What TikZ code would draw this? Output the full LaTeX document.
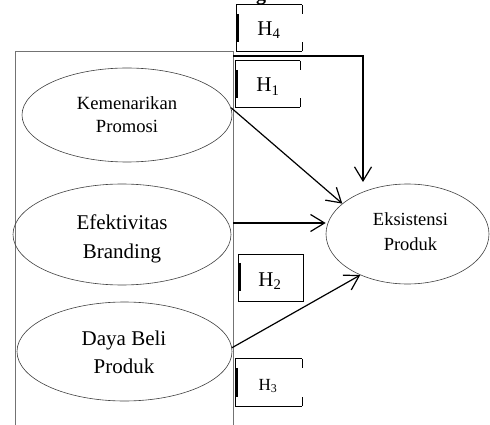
\documentclass[tikz,border=0pt]{standalone}
\usepackage{fontspec}
\setmainfont{Liberation Serif}
\usetikzlibrary{shapes.geometric,arrows.meta}
\newcommand\hypframe[1]{%
  \draw[hedge] (#1.north east) -- (#1.north west) -- (#1.south west) -- (#1.south east);
  \draw[hedge] (#1.north east) -- ++(0,9);
  \draw[hedge] (#1.south east) -- ++(0,-9);
  \draw[hbar] ([xshift=1.3pt]#1.north west) ++(0,9) -- ([xshift=1.3pt,yshift=9pt]#1.south west);
}
\begin{document}
\begin{tikzpicture}[x=1pt,y=-1pt,
  ell/.style={ellipse,draw=black!75,line width=0.6pt,inner sep=0pt},
  txt/.style={align=center,inner sep=0pt},
  frameline/.style={draw=black!55,line width=0.8pt},
  hyp/.style={inner sep=0pt,draw=none},
  hedge/.style={draw=black,line width=0.9pt},
  hbar/.style={draw=black,line width=2.6pt},
  htxt/.style={inner sep=0pt,anchor=base,font=\fontsize{21}{25}\selectfont},
  conn/.style={draw=black,line width=1.2pt,-{Straight Barb[length=14pt,width=17pt,line width=1.2pt]}},
]
\useasboundingbox (0,0) rectangle (490,425);

% cut-off title
\node[inner sep=0pt,anchor=base,font=\bfseries\fontsize{20}{24}\selectfont] (title) at (261,0.8) {g};

% frame
\coordinate (f1) at (15,425);
\coordinate (f2) at (15,51);
\coordinate (f3) at (233,51);
\coordinate (f4) at (233,425);
\draw[frameline] (f1) -- (f2) -- (f3) -- (f4);

% ellipses
\node[ell,minimum width=210pt,minimum height=94pt] (kp) at (127,115) {};
\node[ell,minimum width=218pt,minimum height=101pt] (eb) at (122,234.5) {};
\node[ell,minimum width=215pt,minimum height=99pt] (db) at (124.5,351.5) {};
\node[ell,minimum width=163pt,minimum height=100pt] (es) at (407.5,234) {};

\node[txt,font=\fontsize{18.6}{23}\selectfont] (kpt) at (127,114.2) {Kemenarikan\\Promosi};
\node[txt,font=\fontsize{21}{29}\selectfont] (ebt) at (122,238.7) {Efektivitas\\Branding};
\node[txt,font=\fontsize{21}{28}\selectfont] (dbt) at (124,351.9) {Daya Beli\\Produk};
\node[txt,font=\fontsize{18.5}{25}\selectfont] (est) at (410.5,231.2) {Eksistensi\\Produk};

% hypothesis boxes
\node[hyp,minimum width=65pt,minimum height=46pt] (h4b) at (269.5,28) {};
\node[hyp,minimum width=64pt,minimum height=46pt] (h1b) at (268,84) {};
\node[hyp,minimum width=64pt,minimum height=46pt] (h2b) at (271,278) {};
\node[hyp,minimum width=66pt,minimum height=47pt] (h3b) at (269,382.5) {};
\hypframe{h4b}
\hypframe{h1b}
\hypframe{h3b}
\draw[hedge] (h2b.north west) rectangle (h2b.south east);
\draw[hbar] ([xshift=1.3pt]h2b.north west) ++(0,8) -- ([xshift=1.3pt,yshift=10pt]h2b.south west);

\node[htxt] (h4) at (269,35.7) {H\textsubscript{4}};
\node[htxt] (h1) at (268,92) {H\textsubscript{1}};
\node[htxt] (h2) at (270,286) {H\textsubscript{2}};
\node[htxt,font=\fontsize{17}{20}\selectfont] (h3) at (268,390) {H\textsubscript{3}};

% connectors
\draw[conn] (kp.4) -- (es.155);
\coordinate (a2) at (233,223);
\draw[conn] (a2) -- (a2 -| es.west);
\draw[conn] (db.2) -- (es.221);
\coordinate (t0) at (233,56);
\coordinate (t2) at (363,182);
\draw[conn,line width=1.4pt] (t0) -| (t2);
\end{tikzpicture}
\end{document}
